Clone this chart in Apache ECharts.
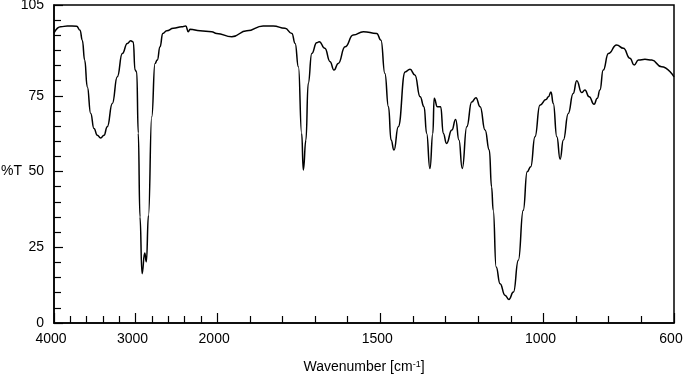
<!DOCTYPE html>
<html>
<head>
<meta charset="utf-8">
<script src="https://cdn.jsdelivr.net/npm/echarts@6/dist/echarts.min.js"></script>
<style>
    html, body { margin: 0; padding: 0; background: #fff; }
    #chart { width: 683px; height: 375px; }
</style>
</head>
<body>
<div id="chart"></div>
<script>
    // spectrum: wavenumber [cm-1] and %T
    var wavenumber = [4000, 3918, 3837, 3722, 3681, 3653, 3624, 3592, 3550, 3510,
        3469, 3428, 3387, 3347, 3285, 3224, 3163, 3101, 3060, 3028,
        3007, 2986, 2967, 2946, 2921, 2888, 2868, 2842, 2802, 2762,
        2734, 2700, 2667, 2618, 2537, 2434, 2385, 2354, 2333, 2210,
        2067, 2006, 1955, 1909, 1859, 1828, 1792, 1771, 1761, 1751,
        1741, 1736, 1728, 1721, 1710, 1695, 1687, 1670, 1654, 1642,
        1629, 1608, 1583, 1552, 1511, 1498, 1486, 1475, 1467, 1458,
        1445, 1424, 1409, 1394, 1378, 1366, 1358, 1348, 1339, 1335,
        1325, 1315, 1307, 1297, 1281, 1269, 1259, 1249, 1235, 1220,
        1207, 1194, 1179, 1166, 1159, 1154, 1145, 1133, 1118, 1106,
        1092, 1077, 1062, 1050, 1039, 1026, 1011, 992, 985, 977,
        970, 959, 949, 939, 924, 909, 898, 883, 873, 860,
        845, 835, 827, 817, 801, 776, 755, 735, 722, 709,
        689, 668, 638, 600];
    var transmittance = [95.8, 97.8, 98.1, 98.0, 96.7, 93.4, 86.8, 78.0, 69.2, 64.2,
        62.0, 61.1, 62.0, 64.8, 72.5, 81.3, 89.0, 92.3, 93.2, 92.8,
        83.5, 82.9, 62.7, 35.0, 16.3, 23.1, 20.2, 35.6, 68.1, 85.7,
        86.8, 91.2, 95.6, 96.5, 97.3, 97.8, 98.1, 96.2, 97.0, 96.5,
        96.2, 95.6, 94.5, 96.5, 98.1, 98.1, 97.3, 95.6, 92.3, 84.6,
        62.6, 50.5, 60.4, 79.1, 89.0, 92.5, 92.9, 90.7, 86.3, 83.5,
        85.7, 91.2, 95.1, 96.2, 95.6, 93.4, 82.4, 71.4, 60.4, 57.1,
        64.8, 82.9, 83.8, 81.9, 74.7, 71.4, 62.6, 51.0, 62.6, 74.2,
        71.4, 71.4, 62.6, 59.3, 63.7, 67.2, 60.4, 51.0, 64.8, 73.0,
        74.4, 71.4, 63.7, 57.1, 44.9, 37.2, 18.5, 13.0, 9.2, 7.8,
        10.2, 20.7, 37.2, 49.9, 51.6, 61.5, 71.9, 73.8, 74.7, 76.3,
        72.5, 61.5, 54.1, 60.4, 69.2, 75.8, 80.0, 76.1, 76.9, 74.7,
        72.2, 74.2, 76.9, 83.5, 89.0, 91.8, 90.7, 87.4, 85.2, 86.8,
        87.1, 86.8, 84.6, 81.3];

    var xLabels = [4000, 3000, 2000, 1500, 1000, 600];
    var xMinorTicks = [3800, 3600, 3400, 3200, 2800, 2600, 2400, 2200,
        1900, 1800, 1700, 1600, 1400, 1300, 1200, 1100, 900, 800, 700];
    var yLabels = [0, 25, 50, 75, 105];
    var yMinorTicks = [5, 10, 15, 20, 30, 35, 40, 45, 55, 60, 65, 70, 80, 85, 90, 95, 100];

    // x scale changes at 2000: 4000-2000 is squeezed 4x
    function toAxis(w) {
        return w >= 2000 ? (4000 - w) / 4 : 500 + (2000 - w);
    }
    function fromAxis(u) {
        return u <= 500 ? 4000 - 4 * u : 2000 - (u - 500);
    }

    var font = "'Liberation Sans', Arial, sans-serif";
    var seriesData = wavenumber.map(function (w, i) {
        return [toAxis(w), transmittance[i]];
    });

    var myChart = echarts.init(document.getElementById('chart'));
    var option = {
        animation: false,
        grid: {
            left: 54, right: 9, top: 5, bottom: 52,
            outerBoundsMode: 'none',
            show: true, borderColor: '#000', borderWidth: 1.5
        },
        // y axis title sits level with the 50 label
        graphic: [{
            type: 'text', left: 1, top: 164,
            style: { text: '%T', fill: '#000', fontSize: 14, fontFamily: font }
        }],
        xAxis: [{
            type: 'value', min: 0, max: 1900,
            name: 'Wavenumber [cm{sup|-1}]',
            nameLocation: 'middle', nameGap: 37,
            nameTextStyle: {
                color: '#000', fontSize: 14, fontFamily: font,
                rich: { sup: { fontSize: 9, verticalAlign: 'top', color: '#000', fontFamily: font } }
            },
            splitLine: { show: false },
            axisLine: { lineStyle: { color: '#000', width: 1.5 } },
            axisTick: { inside: true, length: 10, lineStyle: { color: '#000', width: 1.2 },
                customValues: xLabels.map(toAxis) },
            axisLabel: { color: '#000', fontSize: 14, fontFamily: font, margin: 9,
                padding: [0, 6, 0, 0],
                customValues: xLabels.map(toAxis),
                formatter: function (v) { return Math.round(fromAxis(v)); } }
        }, {
            type: 'value', min: 0, max: 1900, position: 'bottom',
            splitLine: { show: false },
            axisLine: { show: false },
            axisTick: { inside: true, length: 7, lineStyle: { color: '#000', width: 1.2 },
                customValues: xMinorTicks.map(toAxis) },
            axisLabel: { show: false }
        }],
        yAxis: [{
            type: 'value', min: 0, max: 105, position: 'left',
            splitLine: { show: false },
            axisLine: { show: true, lineStyle: { color: '#000', width: 1.5 } },
            axisTick: { show: true, inside: true, length: 9, lineStyle: { color: '#000', width: 1.2 },
                customValues: yLabels },
            axisLabel: { color: '#000', fontSize: 14, fontFamily: font, margin: 10,
                customValues: yLabels }
        }, {
            type: 'value', min: 0, max: 105, position: 'left',
            splitLine: { show: false },
            axisLine: { show: false },
            axisTick: { show: true, inside: true, length: 7, lineStyle: { color: '#000', width: 1.2 },
                customValues: yMinorTicks },
            axisLabel: { show: false }
        }],
        series: [{
            type: 'line',
            xAxisIndex: 0, yAxisIndex: 0,
            data: seriesData,
            symbol: 'none',
            smooth: 0.5,
            smoothMonotone: 'x',
            lineStyle: { color: '#000', width: 1.5 }
        }]
    };
    myChart.setOption(option);
</script>
</body>
</html>
